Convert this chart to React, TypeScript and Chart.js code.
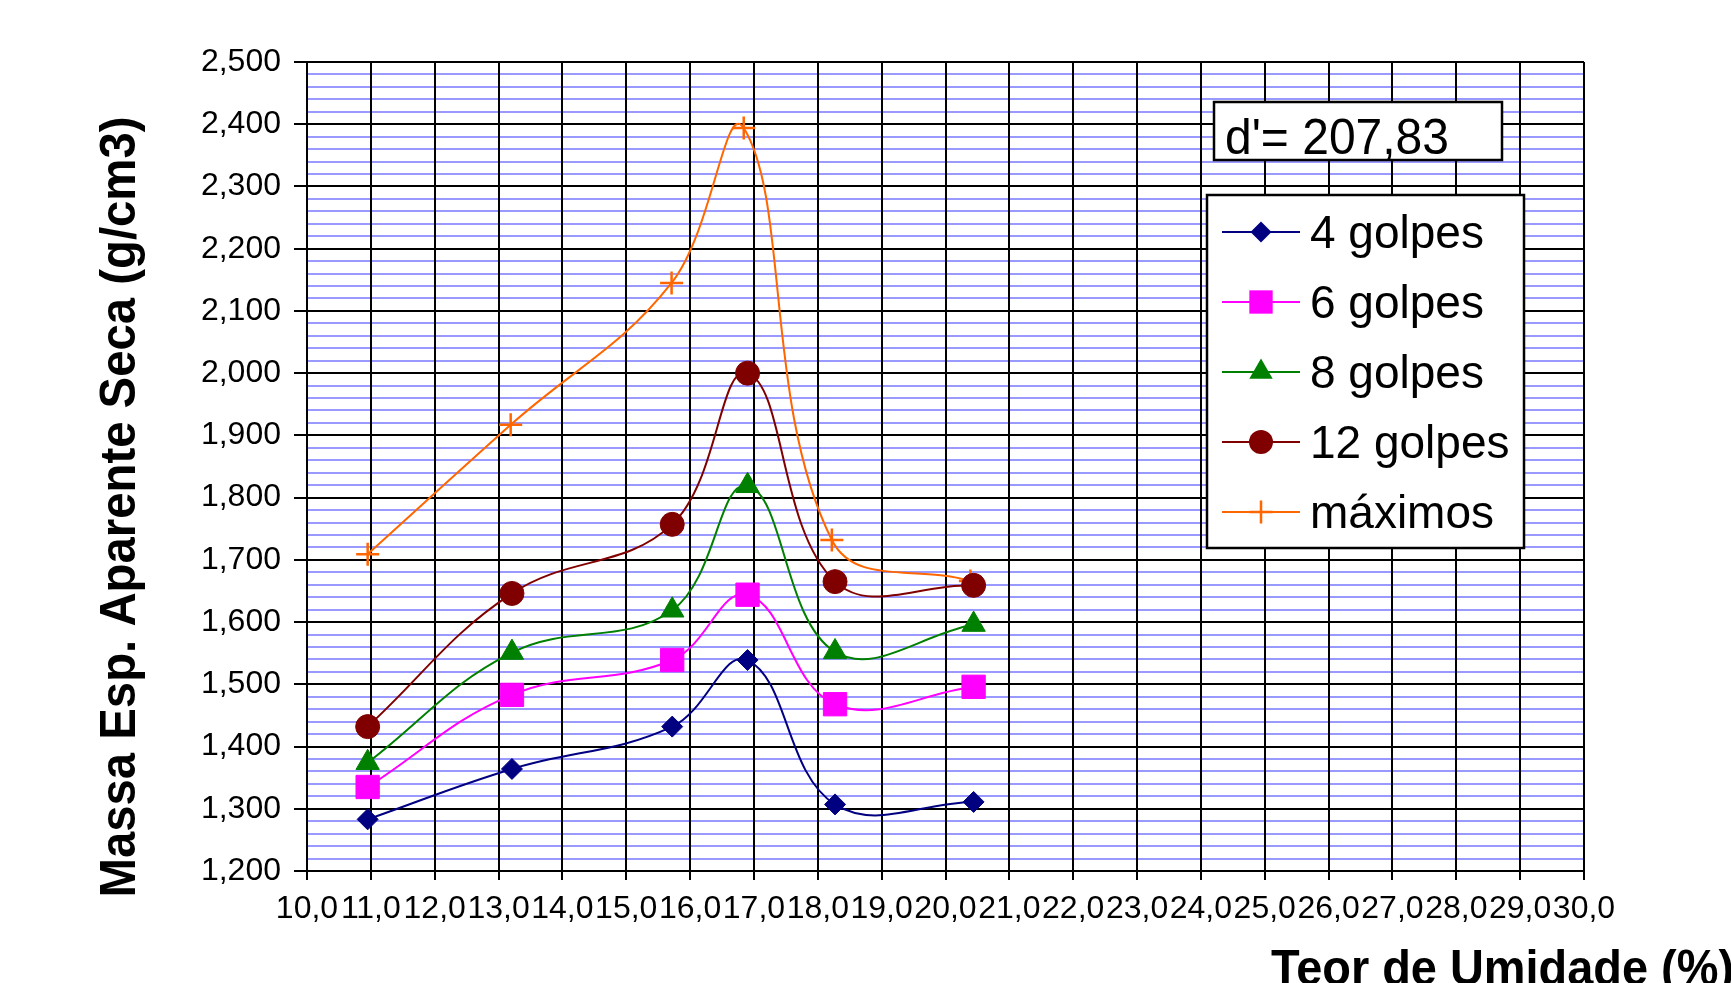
import React, { useEffect, useRef } from 'react';
import { Chart, registerables } from 'chart.js';

Chart.register(...registerables);

// ---- Data ----
const moistureX = [10.95, 13.21, 15.72, 16.9, 18.27, 20.44];
const maxMoistureX = [10.95, 13.19, 15.71, 16.84, 18.22, 20.39];
const golpes4 = [1.283, 1.364, 1.432, 1.539, 1.307, 1.311];
const golpes6 = [1.335, 1.483, 1.539, 1.644, 1.468, 1.496];
const golpes8 = [1.374, 1.551, 1.619, 1.819, 1.552, 1.596];
const golpes12 = [1.432, 1.646, 1.757, 2.0, 1.665, 1.659];
const maximos = [1.709, 1.917, 2.145, 2.394, 1.732, 1.666];
const seriesNames = ['4 golpes', '6 golpes', '8 golpes', '12 golpes', 'máximos'];
const xTickValues = [10, 11, 12, 13, 14, 15, 16, 17, 18, 19, 20, 21, 22, 23, 24, 25, 26, 27, 28, 29, 30];
const yMajorTicks = [1.2, 1.3, 1.4, 1.5, 1.6, 1.7, 1.8, 1.9, 2.0, 2.1, 2.2, 2.3, 2.4, 2.5];
const yMinorDivisions = 5;
const dPrimeLabel = "d'= 207,83";
const xTitle = 'Teor de Umidade (%)';
const yTitle = 'Massa Esp. Aparente Seca (g/cm3)';

const FONT = "'Liberation Sans', Arial, sans-serif";

function drawMarker(ctx: CanvasRenderingContext2D, style: string, x: number, y: number, r: number, color: string, lw: number) {
  ctx.save();
  ctx.fillStyle = color;
  ctx.strokeStyle = color;
  ctx.lineWidth = lw;
  ctx.beginPath();
  if (style === 'circle') {
    ctx.arc(x, y, r, 0, Math.PI * 2);
    ctx.fill();
  } else if (style === 'rect') {
    const s = r * Math.SQRT1_2;
    ctx.rect(x - s, y - s, 2 * s, 2 * s);
    ctx.fill();
  } else if (style === 'rectRot') {
    ctx.moveTo(x, y - r);
    ctx.lineTo(x + r, y);
    ctx.lineTo(x, y + r);
    ctx.lineTo(x - r, y);
    ctx.closePath();
    ctx.fill();
  } else if (style === 'triangle') {
    ctx.moveTo(x, y - r);
    ctx.lineTo(x + 0.866 * r, y + 0.5 * r);
    ctx.lineTo(x - 0.866 * r, y + 0.5 * r);
    ctx.closePath();
    ctx.fill();
  } else if (style === 'cross') {
    ctx.moveTo(x, y - r);
    ctx.lineTo(x, y + r);
    ctx.moveTo(x - r, y);
    ctx.lineTo(x + r, y);
    ctx.stroke();
  }
  ctx.restore();
}

function drawFitted(ctx: CanvasRenderingContext2D, text: string, font: string, targetW: number) {
  ctx.font = font;
  const w = ctx.measureText(text).width;
  ctx.scale(targetW / w, 1);
  ctx.fillText(text, 0, 0);
}

const overlayPlugin = {
  id: 'overlay',
  afterDraw(chart: any) {
    const ctx: CanvasRenderingContext2D = chart.ctx;
    ctx.save();

    // Y axis title
    ctx.save();
    ctx.fillStyle = '#000';
    ctx.textAlign = 'center';
    ctx.textBaseline = 'alphabetic';
    ctx.translate(135, 507);
    ctx.rotate(-Math.PI / 2);
    drawFitted(ctx, yTitle, `bold 50px ${FONT}`, 781);
    ctx.restore();

    // X axis title
    ctx.save();
    ctx.fillStyle = '#000';
    ctx.textAlign = 'left';
    ctx.textBaseline = 'alphabetic';
    ctx.translate(1271, 985);
    drawFitted(ctx, xTitle, `bold 50px ${FONT}`, 463);
    ctx.restore();

    // d' box
    ctx.fillStyle = '#fff';
    ctx.fillRect(1214, 102, 288, 58);
    ctx.strokeStyle = '#000';
    ctx.lineWidth = 2.5;
    ctx.strokeRect(1214, 102, 288, 58);
    ctx.save();
    ctx.fillStyle = '#000';
    ctx.textAlign = 'left';
    ctx.textBaseline = 'alphabetic';
    ctx.translate(1225, 154);
    drawFitted(ctx, dPrimeLabel, `50px ${FONT}`, 224);
    ctx.restore();

    // Legend box
    ctx.fillStyle = '#fff';
    ctx.fillRect(1207, 195, 317, 353);
    ctx.strokeStyle = '#000';
    ctx.lineWidth = 2.5;
    ctx.strokeRect(1207, 195, 317, 353);

    chart.data.datasets.forEach((ds: any, i: number) => {
      const rowY = 232 + i * 70;
      ctx.strokeStyle = ds.borderColor;
      ctx.lineWidth = 2;
      ctx.beginPath();
      ctx.moveTo(1222, rowY);
      ctx.lineTo(1300, rowY);
      ctx.stroke();
      drawMarker(ctx, ds.pointStyle, 1261, rowY, ds.pointRadius, ds.borderColor, ds.pointBorderWidth);
      ctx.fillStyle = '#000';
      ctx.font = `46px ${FONT}`;
      ctx.textAlign = 'left';
      ctx.textBaseline = 'alphabetic';
      ctx.fillText(ds.label, 1310, rowY + 16);
    });

    ctx.restore();
  },
};

export default function App() {
  const ref = useRef<HTMLCanvasElement>(null);

  useEffect(() => {
    const canvas = ref.current;
    if (!canvas) return;

    const fmt = (v: number, d: number) => v.toFixed(d).replace('.', ',');
    const isMajorY = (v: number) => yMajorTicks.some((m) => Math.abs(m - v) < 1e-6);
    const yAllTicks: number[] = [];
    yMajorTicks.forEach((m, i) => {
      yAllTicks.push(m);
      if (i < yMajorTicks.length - 1) {
        const next = yMajorTicks[i + 1];
        for (let k = 1; k < yMinorDivisions; k++) yAllTicks.push(m + ((next - m) * k) / yMinorDivisions);
      }
    });

    const mk = (xs: number[], ys: number[]) => xs.map((x, i) => ({ x, y: ys[i] }));

    const styles = [
      { color: '#000080', style: 'rectRot', r: 10.5, bw: 1 },
      { color: '#FF00FF', style: 'rect', r: 16.5, bw: 1 },
      { color: '#008000', style: 'triangle', r: 13.5, bw: 1 },
      { color: '#800000', style: 'circle', r: 12, bw: 1 },
      { color: '#FF6600', style: 'cross', r: 11.5, bw: 2.5 },
    ];
    const seriesData = [
      mk(moistureX, golpes4),
      mk(moistureX, golpes6),
      mk(moistureX, golpes8),
      mk(moistureX, golpes12),
      mk(maxMoistureX, maximos),
    ];

    const datasets = seriesNames.map((name, i) => ({
      label: name,
      data: seriesData[i],
      borderColor: styles[i].color,
      backgroundColor: styles[i].color,
      borderWidth: 2,
      pointStyle: styles[i].style,
      pointRadius: styles[i].r,
      pointBackgroundColor: styles[i].color,
      pointBorderColor: styles[i].color,
      pointBorderWidth: styles[i].bw,
      tension: 0.4,
      fill: false,
    }));

    const chart = new Chart(canvas, {
      type: 'line',
      data: { datasets },
      options: {
        animation: false,
        responsive: false,
        devicePixelRatio: 1,
        events: [],
        layout: { padding: { left: 0, top: 62, right: 147, bottom: 0 } },
        plugins: { legend: { display: false }, tooltip: { enabled: false } },
        scales: {
          x: {
            type: 'linear',
            min: 10,
            max: 30,
            afterBuildTicks: (scale: any) => {
              scale.ticks = xTickValues.map((v) => ({ value: v }));
            },
            afterFit: (scale: any) => {
              scale.height = 112;
            },
            ticks: {
              autoSkip: false,
              maxRotation: 0,
              minRotation: 0,
              padding: 10,
              color: '#000',
              font: { family: FONT, size: 32 },
              callback: (v: any) => fmt(Number(v), 1),
            },
            grid: { color: '#000', lineWidth: 2, tickLength: 9, tickColor: '#000', tickWidth: 2 },
            border: { display: true, color: '#000', width: 2 },
          },
          y: {
            type: 'linear',
            min: 1.2,
            max: 2.5,
            afterBuildTicks: (scale: any) => {
              scale.ticks = yAllTicks.map((v) => ({ value: v }));
            },
            afterFit: (scale: any) => {
              scale.width = 307;
            },
            ticks: {
              autoSkip: false,
              padding: 13,
              color: '#000',
              font: { family: FONT, size: 32 },
              callback: (v: any) => (isMajorY(Number(v)) ? fmt(Number(v), 3) : ''),
            },
            grid: {
              z: -2,
              lineWidth: 2,
              tickLength: 13,
              tickWidth: 2,
              color: (c: any) => (c.tick && isMajorY(c.tick.value) ? '#000' : '#9999FF'),
              tickColor: (c: any) => (c.tick && isMajorY(c.tick.value) ? '#000' : 'rgba(0,0,0,0)'),
            },
            border: { display: true, color: '#000', width: 2 },
          },
        },
      },
      plugins: [overlayPlugin],
    } as any);

    return () => chart.destroy();
  }, []);

  return (
    <div style={{ position: 'absolute', left: 0, top: 0, width: 1731, height: 983, background: '#fff', overflow: 'hidden' }}>
      <canvas ref={ref} width={1731} height={983} style={{ display: 'block', width: 1731, height: 983 }} />
    </div>
  );
}
